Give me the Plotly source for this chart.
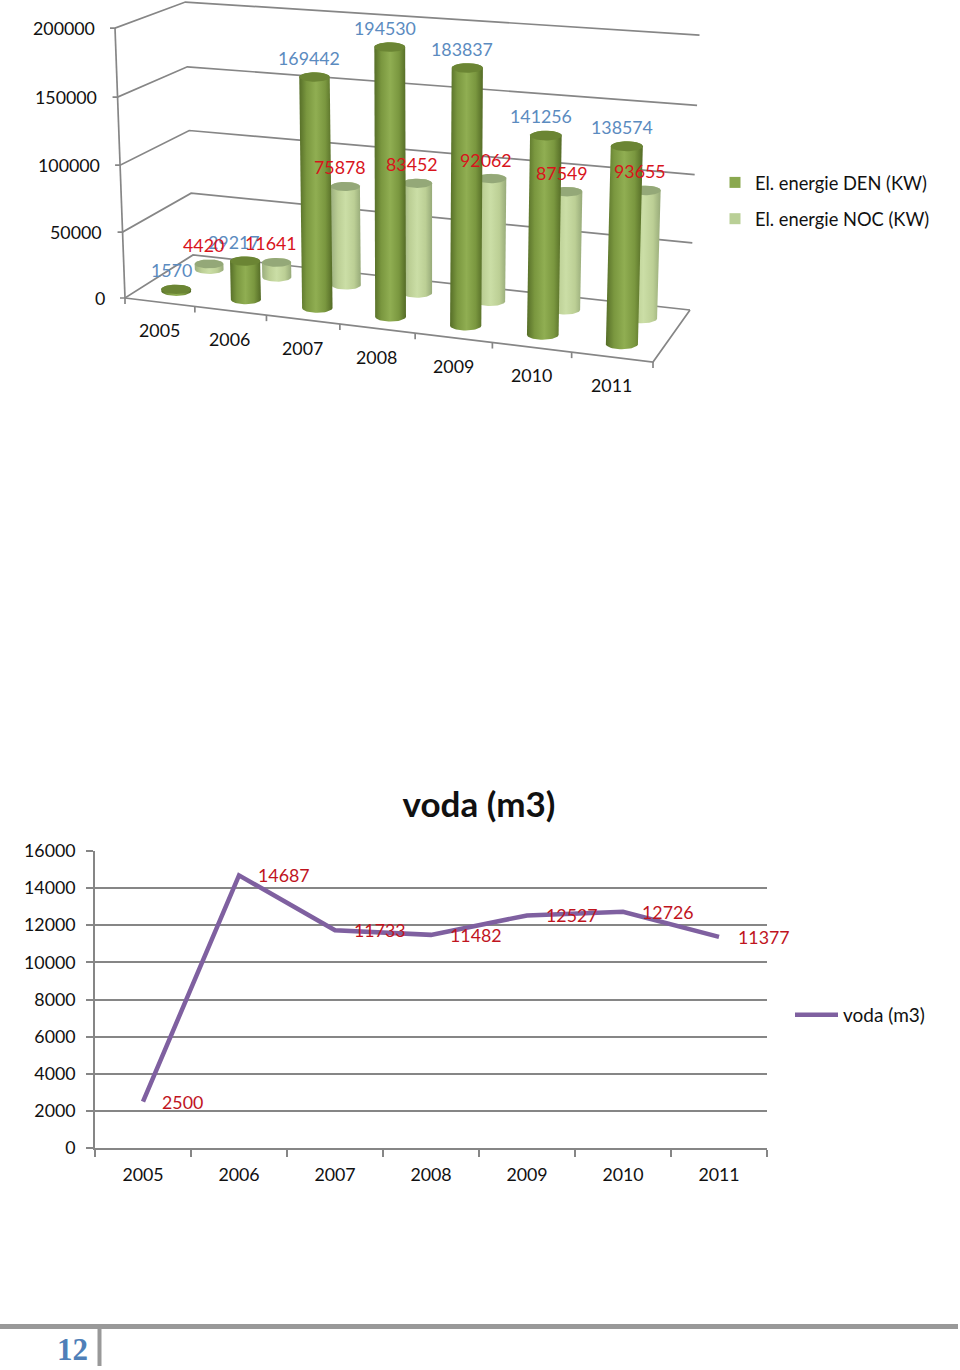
import numpy as np
import plotly.graph_objects as go

years = ["2005", "2006", "2007", "2008", "2009", "2010", "2011"]
den_kw = [1570, 29217, 169442, 194530, 183837, 141256, 138574]
noc_kw = [4420, 11641, 75878, 83452, 92062, 87549, 93655]
voda_m3 = [2500, 14687, 11733, 11482, 12527, 12726, 11377]
kw_ticks = [0, 50000, 100000, 150000, 200000]
m3_ticks = [0, 2000, 4000, 6000, 8000, 10000, 12000, 14000, 16000]

FONT = "Lato"
NUM = 17.8
INK = "#111111"
AXIS = "#868686"
BLUE = "#5b8bbf"
RED = "#d8141c"
DEN_SCALE = [[0, "#566e28"], [0.22, "#7a973f"], [0.5, "#90ae52"], [0.78, "#7a973f"], [1, "#546b26"]]
NOC_SCALE = [[0, "#9bae7e"], [0.25, "#bccf95"], [0.5, "#cbdea6"], [0.78, "#bccf95"], [1, "#97aa79"]]

N_CAT = len(years)
VMAX = kw_ticks[-1]
DEN_LABEL_NUDGE = {1: -6}


def persp(t, r):
    return t / (t + r * (1 - t))


def project(c, d, v):
    """Project category c, depth d (0 front, 1 back), value v onto the chart plane."""
    g = persp(c / N_CAT, 1.093) if 0 < c < N_CAT else c / N_CAT
    fx0, fy0 = 125 + g * 528, 298 + g * 64
    bx0, by0 = 193 + g * 497, 255 + g * 55
    fx = fx0 + (bx0 - fx0) * d
    fy = fy0 + (by0 - fy0) * d
    t = persp(v / VMAX, 1.032) if 0 < v < VMAX else v / VMAX
    h = 151.9 + 0.0004 * fx + 0.396 * fy
    return fx + (fx - 415) * 0.0345 * t, fy - h * t, h


fig = go.Figure()


def seg(xs, ys, width=1.7):
    fig.add_trace(go.Scatter(x=xs, y=ys, mode="lines", line=dict(color=AXIS, width=width),
                             hoverinfo="skip", showlegend=False, xaxis="x", yaxis="y"))


# walls and floor
for v in kw_ticks:
    a = project(0, 0, v)
    b = project(0, 1, v)
    e = project(N_CAT, 1, v)
    seg([a[0] - 5, a[0], b[0], e[0]], [a[1], a[1], b[1], e[1]])
a0, a1 = project(0, 0, 0), project(0, 0, VMAX)
seg([a0[0], a1[0]], [a0[1], a1[1]])
fr, br = project(N_CAT, 0, 0), project(N_CAT, 1, 0)
seg([a0[0], fr[0], br[0]], [a0[1], fr[1], br[1]])
for c in range(N_CAT + 1):
    p = project(c, 0, 0)
    seg([p[0], p[0]], [p[1], p[1] + 6])


def cylinder(c, d, v, scale, top_col, name):
    bx, by, h = project(c, d, 0)
    tx, ty, _ = project(c, d, v)
    rx = h / 18.0
    ry = rx * 0.31
    th = np.linspace(np.pi, 0, 25)
    tb = np.linspace(0, -np.pi, 25)
    xs = np.r_[bx + rx * np.cos(th), tx + rx * np.cos(tb)]
    ys = np.r_[by + ry * np.sin(th), ty + ry * np.sin(tb)]
    fig.add_trace(go.Scatter(x=xs, y=ys, mode="lines", fill="toself", line=dict(width=0, color=scale[0][1]),
                             fillgradient=dict(type="horizontal", colorscale=scale),
                             hoverinfo="text", text=f"{name}: {v}", showlegend=False, xaxis="x", yaxis="y"))
    el = np.linspace(0, 2 * np.pi, 49)
    fig.add_trace(go.Scatter(x=tx + rx * np.cos(el), y=ty + ry * np.sin(el), mode="lines", fill="toself",
                             fillcolor=top_col, line=dict(width=0, color=top_col),
                             hoverinfo="skip", showlegend=False, xaxis="x", yaxis="y"))


for i, v in enumerate(noc_kw):
    cylinder(i + 0.5, 0.75, v, NOC_SCALE, "#94a878", "El. energie NOC (KW)")
for i, v in enumerate(den_kw):
    cylinder(i + 0.5, 0.25, v, DEN_SCALE, "#6b8534", "El. energie DEN (KW)")

# legend entries for the 3D chart
for nm, col, grp in [("El. energie DEN (KW)", "#8aa84f", "a"), ("El. energie NOC (KW)", "#b9cf96", "b")]:
    fig.add_trace(go.Scatter(x=[None], y=[None], mode="markers", name=nm, legendgroup=grp,
                             marker=dict(symbol="square", size=11, color=col), xaxis="x", yaxis="y", legend="legend"))

# line chart
fig.add_trace(go.Scatter(x=years, y=voda_m3, mode="lines", name="voda (m3)", xaxis="x2", yaxis="y2", legend="legend2",
                         line=dict(color="#7f60a0", width=4.5, shape="linear")))

ann = []
for v in kw_ticks:
    x, y, _ = project(0, 0, v)
    ann.append(dict(x=x - 18.5, y=y, xref="x", yref="y", text=str(v), showarrow=False, xanchor="right",
                    font=dict(family=FONT, size=NUM, color=INK)))
for i, yr in enumerate(years):
    x, y, _ = project(i + 0.5, 0, 0)
    ann.append(dict(x=x - 0.5, y=y + 28, xref="x", yref="y", text=yr, showarrow=False,
                    font=dict(family=FONT, size=NUM, color=INK)))
for i, v in enumerate(den_kw):
    x, y, _ = project(i + 0.5, 0.25, v)
    ann.append(dict(x=x - 5 + DEN_LABEL_NUDGE.get(i, 0), y=y - 19.5, xref="x", yref="y", text=str(v), showarrow=False,
                    font=dict(family=FONT, size=NUM, color=BLUE)))
for i, v in enumerate(noc_kw):
    x, y, _ = project(i + 0.5, 0.75, v)
    ann.append(dict(x=x - 5.5, y=y - 19, xref="x", yref="y", text=str(v), showarrow=False,
                    font=dict(family=FONT, size=NUM, color=RED)))
for i, v in enumerate(voda_m3):
    ann.append(dict(x=i, y=v, xref="x2", yref="y2", text=str(v), showarrow=False, xanchor="left", xshift=16.5,
                    font=dict(family=FONT, size=NUM, color="#c0141e")))
ann.append(dict(x=72 / 960, y=1 - 1349 / 1370, xref="paper", yref="paper", text="<b>12</b>", showarrow=False,
                xanchor="center", yanchor="middle",
                font=dict(family="Liberation Serif", size=31, color="#4f7fb8")))

fig.update_layout(
    width=960, height=1370, margin=dict(l=0, r=0, t=0, b=0, autoexpand=False),
    paper_bgcolor="white", plot_bgcolor="rgba(0,0,0,0)",
    font=dict(family=FONT, size=NUM, color=INK),
    title=dict(text="<b>voda (m3)</b>", x=479 / 960, xanchor="center", y=1 - 805 / 1370, yanchor="middle",
               xref="paper", yref="container", font=dict(family=FONT, size=35, color=INK)),
    xaxis=dict(domain=[0, 1], range=[0, 960], visible=False, fixedrange=True, automargin=False),
    yaxis=dict(domain=[1 - 400 / 1370, 1], range=[400, 0], visible=False, fixedrange=True, automargin=False),
    xaxis2=dict(domain=[95 / 960, 767 / 960], anchor="y2", type="category", categoryorder="array", categoryarray=years,
                range=[-0.5, 6.5], tickangle=0, automargin=False,
                tickson="boundaries", ticks="outside", ticklen=7, tickwidth=1.7, tickcolor=AXIS,
                showline=True, linecolor=AXIS, linewidth=1.7, showgrid=False, ticklabelstandoff=10,
                tickfont=dict(family=FONT, size=NUM, color=INK), fixedrange=True),
    yaxis2=dict(domain=[(1370 - 1148) / 1370, (1370 - 851) / 1370], anchor="x2", range=[0, 16000], automargin=False,
                tickvals=m3_ticks, ticktext=[str(t) for t in m3_ticks], ticks="outside", ticklen=7, tickwidth=1.7,
                tickcolor=AXIS, showline=True, linecolor=AXIS, linewidth=1.7, showgrid=True, gridcolor=AXIS,
                gridwidth=1.7, zeroline=False, ticklabelstandoff=7,
                tickfont=dict(family=FONT, size=NUM, color=INK), fixedrange=True),
    legend=dict(x=715 / 960, y=1 - 164 / 1370, xanchor="left", yanchor="top", bgcolor="rgba(0,0,0,0)",
                tracegroupgap=9.5, font=dict(family=FONT, size=18.3, color=INK)),
    legend2=dict(x=790 / 960, y=1 - 996 / 1370, xanchor="left", yanchor="top", bgcolor="rgba(0,0,0,0)",
                 itemwidth=43, font=dict(family=FONT, size=19, color=INK)),
    annotations=ann,
    shapes=[
        dict(type="line", xref="paper", yref="paper", x0=0, x1=958 / 960, y0=1 - 1326.5 / 1370, y1=1 - 1326.5 / 1370,
             line=dict(color="#999999", width=5)),
        dict(type="line", xref="paper", yref="paper", x0=99.5 / 960, x1=99.5 / 960, y0=1 - 1327 / 1370, y1=1 - 1366 / 1370,
             line=dict(color="#999999", width=4)),
    ],
)

fig.write_html("out.html", config={"displayModeBar": False},
               post_script="document.body.style.margin='0';window.dispatchEvent(new Event('resize'));")
